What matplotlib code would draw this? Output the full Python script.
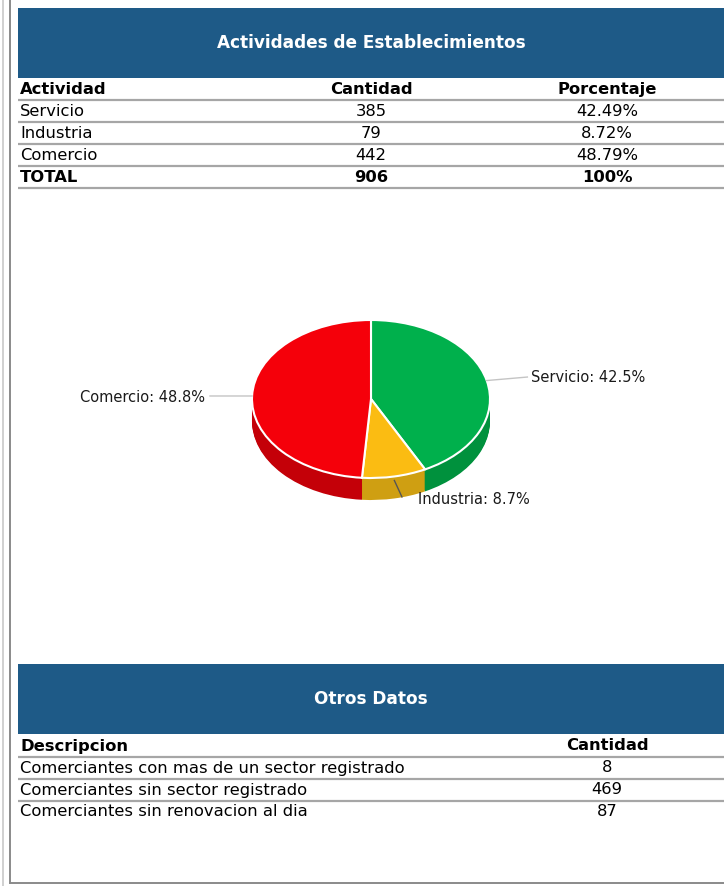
import numpy as np
import matplotlib
matplotlib.use("Agg")
import matplotlib.pyplot as plt

# ---- data ----
title_1 = "Actividades de Establecimientos"
head_1 = ["Actividad", "Cantidad", "Porcentaje"]
actividades = ["Servicio", "Industria", "Comercio"]
cantidades = [385, 79, 442]
porcentajes = ["42.49%", "8.72%", "48.79%"]
total_row = ["TOTAL", "906", "100%"]

pie_labels = ["Servicio: 42.5%", "Industria: 8.7%", "Comercio: 48.8%"]
top_colors = ["#00B04C", "#FBBC12", "#F5000A"]
side_colors = ["#00913D", "#CF9F12", "#C40008"]

title_2 = "Otros Datos"
head_2 = ["Descripcion", "Cantidad"]
descripciones = ["Comerciantes con mas de un sector registrado",
                 "Comerciantes sin sector registrado",
                 "Comerciantes sin renovacion al dia"]
otros_cant = [8, 469, 87]

W, H = 724, 886
BLUE = "#1E5A87"
LINE = "#A6A6A6"
FS = 11.8

fig = plt.figure(figsize=(W / 100, H / 100), dpi=100)
ax = fig.add_axes([0, 0, 1, 1])
ax.set_xlim(0, W)
ax.set_ylim(H, 0)
ax.axis("off")

# page frame
ax.plot([3, 3], [0, H], color="#C8C8C8", lw=1.2)
ax.plot([10, 10], [0, 883], color="#8A8A8A", lw=1.4)
ax.plot([10, W], [883, 883], color="#8A8A8A", lw=1.4)

x_left, x_c1, x_c2 = 20, 371, 607


def header_box(y0, y1, text):
    ax.add_patch(plt.Rectangle((18, y0), W - 18, y1 - y0, color=BLUE, lw=0))
    ax.text(x_c1, (y0 + y1) / 2, text, color="white", fontsize=12.2,
            fontweight="bold", ha="center", va="center")


def hline(y):
    ax.plot([18, W], [y, y], color=LINE, lw=1.6, solid_capstyle="butt")


# ---- table 1 ----
header_box(8, 78, title_1)
rows = [head_1] + [[a, str(c), p] for a, c, p in zip(actividades, cantidades, porcentajes)] + [total_row]
for i, r in enumerate(rows):
    y = 89 + 22 * i
    bold = "bold" if i in (0, len(rows) - 1) else "normal"
    ax.text(x_left, y, r[0], fontsize=FS, fontweight=bold, ha="left", va="center")
    ax.text(x_c1, y, r[1], fontsize=FS, fontweight=bold, ha="center", va="center")
    ax.text(x_c2, y, r[2], fontsize=FS, fontweight=bold, ha="center", va="center")
    hline(y + 11)

# ---- table 2 ----
header_box(664, 734, title_2)
rows2 = [head_2] + [[d, str(c)] for d, c in zip(descripciones, otros_cant)]
for i, r in enumerate(rows2):
    y = 746 + 22 * i
    bold = "bold" if i == 0 else "normal"
    ax.text(x_left, y, r[0], fontsize=FS, fontweight=bold, ha="left", va="center")
    ax.text(x_c2, y, r[1], fontsize=FS, fontweight=bold, ha="center", va="center")
    if i < len(rows2) - 1:
        hline(y + 11)

# ---- 3D-looking pie ----
cx, cy, rx, ry, depth = 371, 399, 119, 79, 22
pax = fig.add_axes([(cx - 2 * rx) / W, (H - (cy + 2 * ry)) / H, 4 * rx / W, 4 * ry / H])
for off in np.arange(depth, 0, -1.0):
    pax.pie(cantidades, colors=side_colors, startangle=90, counterclock=False,
            center=(0, -off / ry), wedgeprops=dict(lw=0))
wedges, _ = pax.pie(cantidades, colors=top_colors, startangle=90, counterclock=False,
                    wedgeprops=dict(edgecolor="white", lw=1.5))
pax.set_aspect("auto")
pax.set_xlim(-2, 2)
pax.set_ylim(-2, 2)
pax.axis("off")

# label: (start drop in px, line end x, line end y, text x, text y, ha, line colour)
label_lay = [(0, 1.314, 0.278, 1.345, 0.268, "left", "#C4C4C4"),
             (4, 0.26, -1.24, 0.395, -1.27, "left", "#555555"),
             (0, -1.353, 0.038, -1.395, 0.025, "right", "#C4C4C4")]
for w, lab, (drop, lx, ly, tx, ty, ha, lc) in zip(wedges, pie_labels, label_lay):
    ang = np.deg2rad((w.theta1 + w.theta2) / 2)
    px, py = np.cos(ang), np.sin(ang) - drop / ry
    pax.plot([px, lx], [py, ly], color=lc, lw=1)
    pax.text(tx, ty, lab, fontsize=10.5, color="#1A1A1A", ha=ha, va="center",
             family="DejaVu Sans")

fig.savefig("out.png", dpi=100)
